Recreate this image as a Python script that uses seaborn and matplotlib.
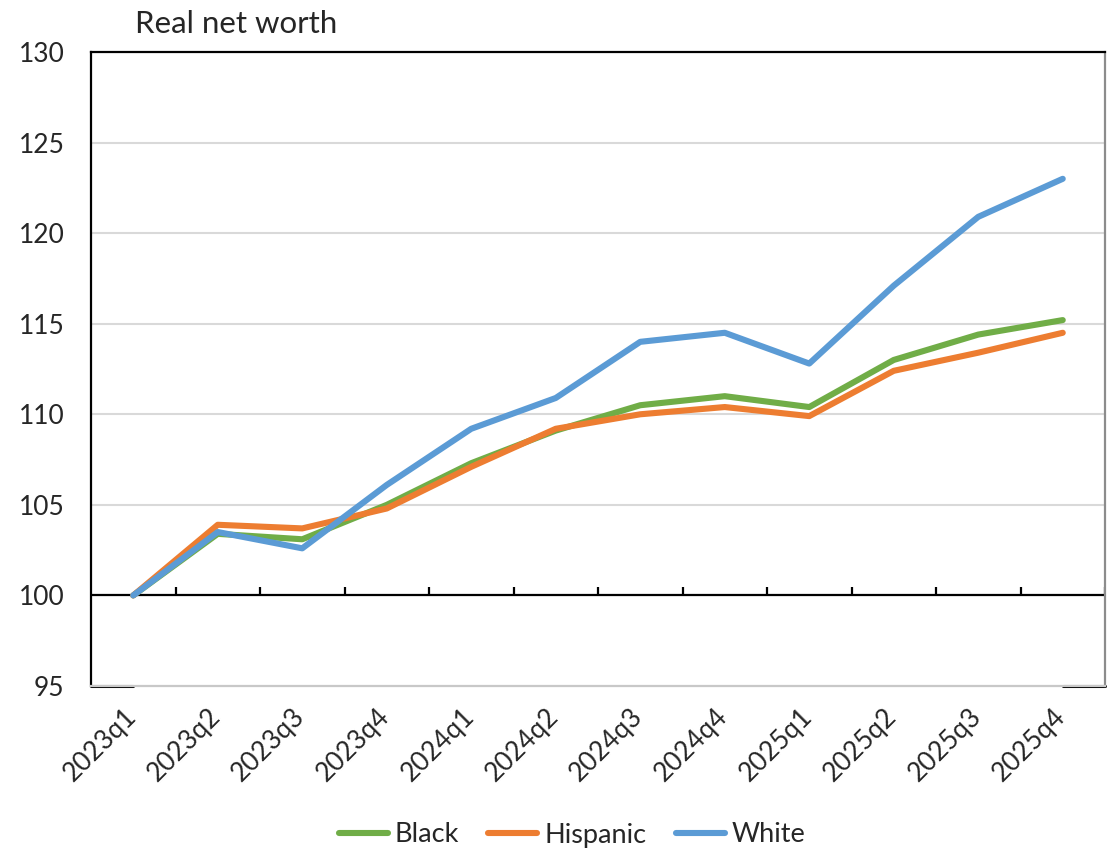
import pandas as pd
import matplotlib
matplotlib.use('Agg')
import matplotlib.pyplot as plt
import matplotlib.transforms as mtransforms
import seaborn as sns

# Quarterly values, 2023q1 = 100
quarters = ['2023q1', '2023q2', '2023q3', '2023q4',
            '2024q1', '2024q2', '2024q3', '2024q4',
            '2025q1', '2025q2', '2025q3', '2025q4']
black = [100, 103.4, 103.1, 105.0, 107.3, 109.1, 110.5, 111.0, 110.4, 113.0, 114.4, 115.2]
hispanic = [100, 103.9, 103.7, 104.8, 107.1, 109.2, 110.0, 110.4, 109.9, 112.4, 113.4, 114.5]
white = [100, 103.5, 102.6, 106.1, 109.2, 110.9, 114.0, 114.5, 112.8, 117.1, 120.9, 123.0]
y_ticks = [95, 100, 105, 110, 115, 120, 125, 130]

df = pd.DataFrame({'quarter': quarters * 3,
                   'value': black + hispanic + white,
                   'group': ['Black'] * 12 + ['Hispanic'] * 12 + ['White'] * 12})

sns.set_style('white')
plt.rcParams['font.family'] = ['Lato', 'DejaVu Sans']

fig = plt.figure(figsize=(11.12, 8.51), dpi=100)
ax = fig.add_axes([91 / 1112, 1 - 686 / 851, (1105 - 91) / 1112, (686 - 52) / 851])

palette = {'Black': '#70ad47', 'Hispanic': '#ed7d31', 'White': '#5b9bd5'}
sns.lineplot(data=df, x='quarter', y='value', hue='group', palette=palette,
             linewidth=4.4, sort=False, ax=ax, legend=True,
             solid_capstyle='round', solid_joinstyle='round', zorder=3)

ax.set_xlim(-0.5, len(quarters) - 0.5)
ax.set_ylim(95, 130)
ax.set_yticks(y_ticks)
for t in y_ticks[1:]:
    ax.axhline(t, color='#d9d9d9', linewidth=1.5, zorder=1)
ax.axhline(100, color='black', linewidth=1.6, zorder=2)
# tick marks on the 100 line between categories
ax.vlines([i + 0.5 for i in range(len(quarters) - 1)] + [len(quarters) - 0.5], 100, 100.45,
          color='black', linewidth=1.6, zorder=2)

ax.set_xlabel('')
ax.set_ylabel('')
ax.tick_params(axis='both', length=0, labelsize=19)
ax.tick_params(axis='y', pad=19)
ax.tick_params(axis='x', pad=13)
shift = mtransforms.ScaledTranslation(-10 / 100, 0, fig.dpi_scale_trans)
for lab in ax.get_xticklabels():
    lab.set_rotation(45)
    lab.set_ha('right')
    lab.set_va('top')
    lab.set_rotation_mode('anchor')
    lab.set_transform(lab.get_transform() + shift)

for side in ['top', 'left']:
    ax.spines[side].set_color('black')
    ax.spines[side].set_linewidth(1.6)
ax.spines['right'].set_color('#8c8c8c')
ax.spines['right'].set_linewidth(1.6)
ax.spines['bottom'].set_color('#c8c8c8')
ax.spines['bottom'].set_linewidth(1.6)
ax.axhline(95, xmin=0, xmax=0.5 / 12, color='black', linewidth=2.2, clip_on=False)
ax.axhline(95, xmin=11.5 / 12, xmax=1, color='black', linewidth=2.2, clip_on=False)

handles, labels = ax.get_legend_handles_labels()
ax.get_legend().remove()
fig.legend(handles, labels, loc='center', bbox_to_anchor=(572 / 1112, 1 - 835 / 851),
           ncol=3, frameon=False, fontsize=19.5, handlelength=1.8, handletextpad=0.25,
           columnspacing=1.1)

fig.text(135 / 1112, 1 - 33 / 851, 'Real net worth', fontsize=22.5, ha='left', va='baseline')

fig.savefig('out.png', dpi=100)
